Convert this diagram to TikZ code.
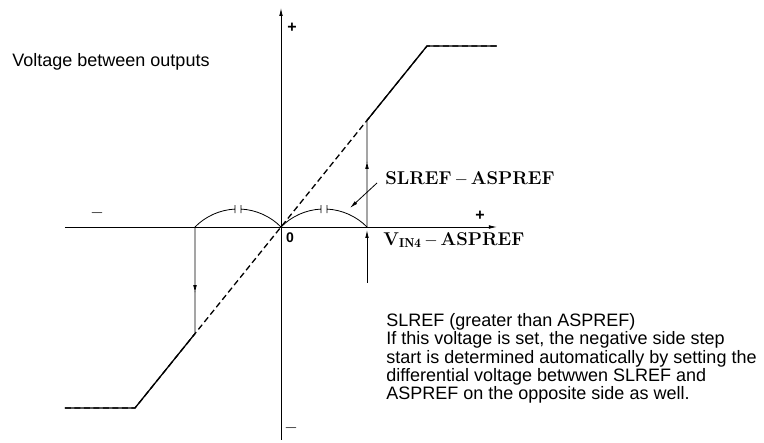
\documentclass[tikz,border=0pt]{standalone}
\usepackage{fontspec}
\newfontfamily\notesans{Liberation Sans}
\usetikzlibrary{arrows.meta,calc}

% arc over [#1-43,#1+43] on the axis, broken at its top by two ticks
\newcommand{\gaparc}[1]{
  \draw (#1+43,0) arc[start angle=44.6,end angle=87.2,radius=60.4pt] -- ++(0,4) -- ++(0,-8);
  \draw (#1-43,0) arc[start angle=135.4,end angle=92.8,radius=60.4pt] -- ++(0,4) -- ++(0,-8);
}

\begin{document}
\begin{tikzpicture}[x=1pt,y=1pt,line width=0.8pt,
    tip/.style={-{Latex[length=8pt,width=3.6pt]}},
    curve/.style={line width=1.3pt},
    guide/.style={line width=1.3pt,dash pattern=on 6pt off 3.5pt},
    sign/.style={font=\notesans\bfseries\fontsize{16}{16}\selectfont,inner sep=0pt},
    level/.style={font=\bfseries\fontsize{18.5}{18.5}\selectfont,inner sep=0pt,anchor=west},
    note/.style={font=\notesans\fontsize{18}{18.3}\selectfont,inner sep=0pt,align=left}]
  \useasboundingbox (-281,-216) rectangle (483,227);

  % axes
  \coordinate (O) at (0,0);
  \coordinate (xl) at (-216,0);
  \coordinate (xr) at (216,0);
  \coordinate (yb) at (0,-213);
  \coordinate (yt) at (0,219);
  \draw[tip] (xl) -- (xr);
  \draw[tip] (yb) -- (yt);
  \node[sign] (yplus) at (11,199) {+};
  \node[sign] (yminus) at (10,-201) {$-$};
  \node[sign] (xplus) at (199,11) {+};
  \node[sign] (xminus) at (-184,14) {$-$};
  \node[sign,font=\notesans\bfseries\fontsize{14}{14}\selectfont] (zero) at (9,-11) {0};

  % characteristic
  \coordinate (BL) at (-216,-181);
  \coordinate (bk) at (-146,-181);
  \coordinate (tk) at (146,181);
  \coordinate (TR) at (216,181);
  \coordinate (ltop) at ($(O)!0.589!(bk)$);
  \coordinate (rtop) at ($(O)!0.589!(tk)$);
  \coordinate (lbase) at (-86,0);
  \coordinate (rbase) at (86,0);
  \draw[curve] (BL) -- (bk) -- (ltop);
  \draw[curve] (rtop) -- (tk) -- (TR);
  \draw[guide,shift={(-1.2,1.5)}] (BL) -- (bk) -- (tk) -- (TR);

  % steps
  \draw[tip] (lbase) -- ($(lbase)!0.62!(ltop)$);
  \draw ($(lbase)!0.6!(ltop)$) -- (ltop);
  \draw[tip] (rbase) -- ($(rbase)!0.62!(rtop)$);
  \draw ($(rbase)!0.6!(rtop)$) -- (rtop);
  \foreach \c in {-43,43} {
    \gaparc{\c}
  }

  % labels
  \node[level] (slref) at (104,48) {SLREF$\,-\,$ASPREF};
  \node[level] (vin) at (102,-13) {V$_{\mathbf{IN4}}\,-\,$ASPREF};
  \coordinate (arcpt) at (69,19);
  \draw[tip] ([shift={(-8,-4)}]slref.west) -- (arcpt);
  \coordinate (vfoot) at (86,-56);
  \draw[tip] (vfoot) -- (86,-3);

  \node[note,anchor=west] (title) at (-269,165) {Voltage between outputs};
  \node[note,anchor=north west] (remark) at (105,-86) {SLREF (greater than ASPREF)\\
    If this voltage is set, the negative side step\\
    start is determined automatically by setting the\\
    differential voltage betwwen SLREF and\\
    ASPREF on the opposite side as well.};
\end{tikzpicture}
\end{document}
